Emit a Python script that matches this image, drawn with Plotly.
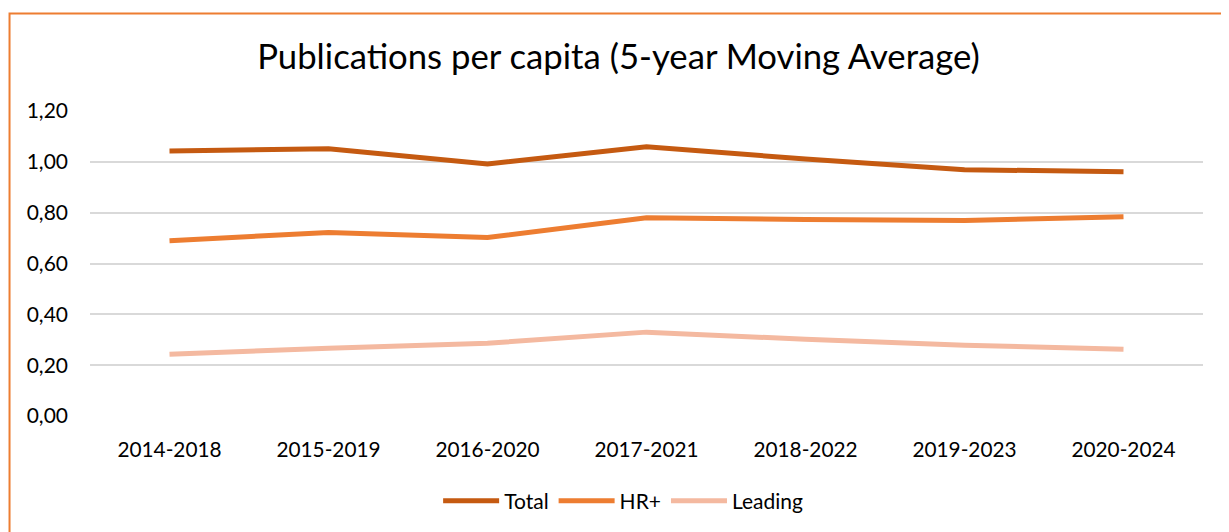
import plotly.graph_objects as go

# 5-year windows
periods = ["2014-2018", "2015-2019", "2016-2020", "2017-2021",
           "2018-2022", "2019-2023", "2020-2024"]

total = [1.043, 1.051, 0.992, 1.059, 1.011, 0.969, 0.961]
hr_plus = [0.690, 0.722, 0.702, 0.780, 0.773, 0.769, 0.784]
leading = [0.243, 0.267, 0.286, 0.330, 0.302, 0.278, 0.263]

series = [
    ("Total", total, "#C55A11"),
    ("HR+", hr_plus, "#ED7D31"),
    ("Leading", leading, "#F4B9A0"),
]

FONT = "Lato, Calibri, sans-serif"

fig = go.Figure()
for name, vals, color in series:
    fig.add_trace(go.Scatter(
        x=periods, y=vals, name=name, mode="lines",
        line=dict(color=color, width=5),
    ))

# page has an 8px body margin, so the figure is sized to fit the window
fig.update_layout(
    width=1221, height=524,
    margin=dict(l=82, r=26, t=103, b=115),
    paper_bgcolor="white", plot_bgcolor="white",
    separators=",.",
    font=dict(family=FONT, size=21, color="#000000"),
    title=dict(text="Publications per capita (5-year Moving Average)",
               x=0.5, xanchor="center", y=0.9065, yanchor="middle",
               font=dict(family=FONT, size=34.7, color="#000000")),
    legend=dict(orientation="h", x=0.479, xanchor="center", y=-0.275, yanchor="middle",
                font=dict(family=FONT, size=21), itemwidth=56, tracegroupgap=0),
    showlegend=True,
)

fig.update_xaxes(range=[-0.5, 6.5], showgrid=False, showline=False, ticks="",
                 zeroline=False, tickfont=dict(size=20.8), ticklabelstandoff=19)
fig.update_yaxes(range=[0, 1.2], dtick=0.2, tickformat=".2f",
                 showgrid=True, gridcolor="#D9D9D9", gridwidth=1.5,
                 zeroline=False, showline=False, ticks="",
                 tickfont=dict(size=21), ticklabelstandoff=21)

# orange frame around the chart
fig.add_shape(type="rect", xref="paper", yref="paper",
              x0=-0.0723, x1=1.1, y0=-0.5, y1=1.320,
              line=dict(color="#ED7D31", width=2), fillcolor="rgba(0,0,0,0)")

fig.write_html("out.html")
